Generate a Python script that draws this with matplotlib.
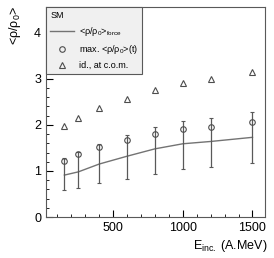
import matplotlib
matplotlib.use('Agg')
from matplotlib import pyplot as plt
from matplotlib.ticker import MultipleLocator

plt.rcParams['font.family'] = ['Liberation Sans', 'DejaVu Sans']
plt.rcParams['mathtext.fontset'] = 'custom'
plt.rcParams['mathtext.rm'] = 'Liberation Sans'
plt.rcParams['mathtext.it'] = 'Liberation Sans'

# beam energies (A.MeV)
energy = [150, 250, 400, 600, 800, 1000, 1200, 1500]
# <rho/rho0>_force
rho_force = [0.91, 0.98, 1.15, 1.32, 1.48, 1.59, 1.64, 1.73]
# max <rho/rho0>(t) with error bar ends
rho_max = [1.22, 1.37, 1.53, 1.68, 1.80, 1.91, 1.95, 2.07]
err_low = [0.59, 0.62, 0.73, 0.83, 0.93, 1.04, 1.08, 1.18]
err_high = [1.28, 1.42, 1.59, 1.78, 1.96, 2.09, 2.16, 2.29]
# id., at c.o.m.
rho_com = [1.98, 2.15, 2.36, 2.56, 2.76, 2.91, 3.00, 3.14]

fig = plt.figure(figsize=(2.74, 2.58), dpi=100)
ax = fig.add_axes([46 / 274, 1 - 217 / 258, (265 - 46) / 274, (217 - 7) / 258])

ax.plot(energy, rho_force, color='0.45', lw=1.0, label='<ρ/ρ$_0$>$_{\\rm force}$')
yerr = [[m - l for m, l in zip(rho_max, err_low)], [h - m for m, h in zip(rho_max, err_high)]]
ax.errorbar(energy, rho_max, yerr=yerr, fmt='none', ecolor='0.35', elinewidth=0.9, capsize=1.5, capthick=0.8)
ax.plot(energy, rho_max, 'o', mfc='none', mec='0.3', ms=4, mew=0.8, label='max. <ρ/ρ$_0$>(t)')
ax.plot(energy, rho_com, '^', mfc='none', mec='0.3', ms=4.5, mew=0.8, label='id., at c.o.m.')

ax.set_xlim(18, 1590)
ax.set_ylim(0, 4.56)
ax.xaxis.set_major_locator(MultipleLocator(500))
ax.xaxis.set_minor_locator(MultipleLocator(100))
ax.yaxis.set_major_locator(MultipleLocator(1))
ax.yaxis.set_minor_locator(MultipleLocator(0.2))
ax.tick_params(which='both', direction='in', labelsize=9, colors='black')
ax.tick_params(which='major', length=5, width=0.8)
ax.tick_params(which='minor', length=2.5, width=0.6)
for s in ax.spines.values():
    s.set_color('0.35')
    s.set_linewidth(0.8)

fig.text(0.055, 0.975, '<ρ/ρ$_0$>', rotation=90, ha='center', va='top', fontsize=9)
fig.text(0.975, 0.015, 'E$_{\\rm inc.}$ (A.MeV)', ha='right', va='bottom', fontsize=9)

leg = ax.legend(loc='upper left', title='SM', fontsize=6.5, title_fontsize=6.5, frameon=True,
                fancybox=False, borderaxespad=0, handlelength=2.6, borderpad=0.45,
                labelspacing=0.55, handletextpad=0.6)
leg._legend_box.align = 'left'
leg.get_frame().set_facecolor('#f0f0f0')
leg.get_frame().set_edgecolor('0.35')
leg.get_frame().set_linewidth(0.8)
leg.get_frame().set_alpha(1)

fig.savefig('out.png', dpi=100)
